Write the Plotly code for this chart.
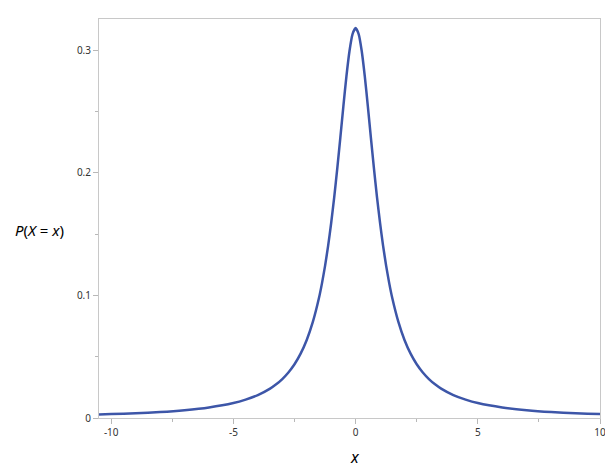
import plotly.graph_objects as go

# values (symmetric density)
x_pos = [0, 0.125, 0.25, 0.375, 0.5, 0.625, 0.75, 0.875, 1.0, 1.125, 1.25, 1.375, 1.5, 1.75,
         2.0, 2.25, 2.5, 2.75, 3.0, 3.25, 3.5, 4.0, 4.5, 5.0, 6.0, 7.0, 8.0, 9.0, 10.0, 10.5]
y_pos = [0.3183, 0.3134, 0.2996, 0.2791, 0.2546, 0.2289, 0.2037, 0.1803, 0.1592, 0.1405, 0.1242,
         0.1101, 0.0979, 0.0784, 0.0637, 0.0525, 0.0439, 0.0372, 0.0318, 0.0275, 0.0240, 0.0187,
         0.0150, 0.0122, 0.0086, 0.0064, 0.0049, 0.0039, 0.0032, 0.0029]

x_vals = [-v for v in reversed(x_pos[1:])] + x_pos
y_vals = list(reversed(y_pos[1:])) + y_pos

x_ticks = [-10, -5, 0, 5, 10]
y_ticks = [0, 0.1, 0.2, 0.3]
y_tick_text = ["0", "0.1", "0.2", "0.3"]

fig = go.Figure()
fig.add_trace(go.Scatter(x=x_vals, y=y_vals, mode="lines",
                         line=dict(color="#3D56A8", width=2.5, shape="spline", smoothing=0.6),
                         hoverinfo="skip", showlegend=False))

axis_font = dict(family="Noto Sans, DejaVu Sans, sans-serif", size=10, color="#333333")
fig.update_xaxes(range=[-10.5, 10], tickvals=x_ticks, ticktext=[str(t) for t in x_ticks],
                 showgrid=False, zeroline=False, showline=True, linecolor="#c8c8c8", linewidth=1,
                 mirror=True, ticks="outside", ticklen=5, tickcolor="#b8b8b8", tickfont=axis_font,
                 minor=dict(tickvals=[-7.5, -2.5, 2.5, 7.5], ticks="outside", ticklen=3, tickcolor="#b8b8b8"))
fig.update_yaxes(range=[0, 0.3257], tickvals=y_ticks, ticktext=y_tick_text,
                 showgrid=False, zeroline=False, showline=True, linecolor="#c8c8c8", linewidth=1,
                 mirror=True, ticks="outside", ticklen=5, tickcolor="#b8b8b8", tickfont=axis_font,
                 minor=dict(tickvals=[0.05, 0.15, 0.25], ticks="outside", ticklen=3, tickcolor="#b8b8b8"))

fig.add_annotation(text="<i>P</i>(<i>X</i> = <i>x</i>)", xref="paper", yref="paper",
                   x=-0.066, y=0.471, xanchor="right", yanchor="middle", showarrow=False,
                   font=dict(family="Noto Sans, DejaVu Sans, sans-serif", size=15, color="#000000"))
fig.add_annotation(text="<i>x</i>", xref="paper", yref="paper", x=0.511, y=-0.098,
                   xanchor="center", yanchor="middle", showarrow=False,
                   font=dict(family="Noto Sans, DejaVu Sans, sans-serif", size=16, color="#000000"))

fig.update_layout(width=613, height=475, margin=dict(l=91, r=21, t=11, b=65),
                  paper_bgcolor="white", plot_bgcolor="white")
fig.write_html("out.html")
